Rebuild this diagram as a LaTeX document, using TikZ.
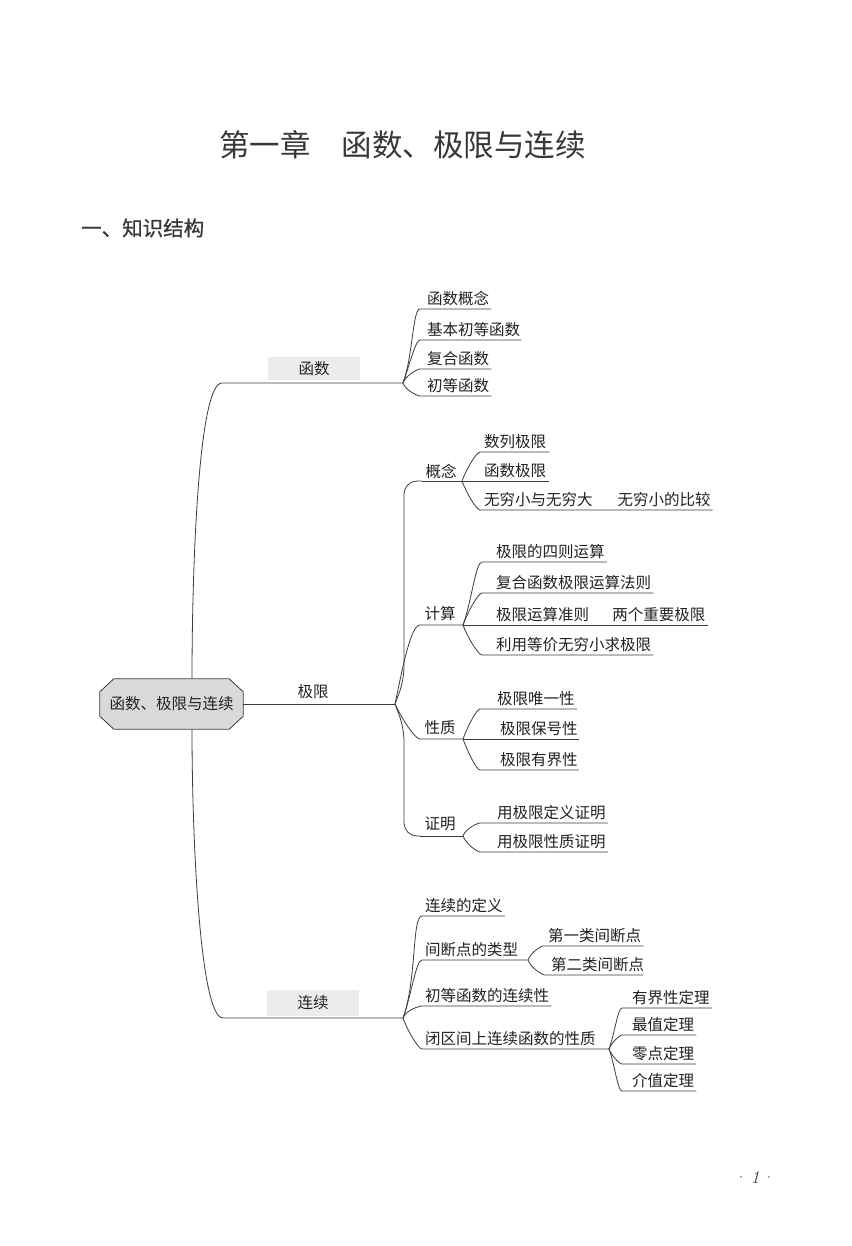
\documentclass[tikz,border=0pt]{standalone}
\usepackage{fontspec}
\newfontfamily\cjk{Noto Sans CJK SC}
\newfontfamily\cjkb{Noto Sans CJK SC}[FakeBold=0.8]
\usetikzlibrary{calc,backgrounds}
\definecolor{ln}{HTML}{3C3C3C}
\definecolor{tx}{HTML}{222222}
\definecolor{ttl}{HTML}{383838}
\definecolor{rootfill}{HTML}{D9D9D9}
\definecolor{labfill}{HTML}{ECECEC}
\begin{document}
\begin{tikzpicture}[x=1pt,y=1pt,
  every node/.style={text=tx},
  item/.style={font=\cjk\fontsize{15.5}{18}\selectfont, anchor=south west, inner xsep=0pt, inner ysep=4pt, text depth=0pt},
  lab/.style={font=\cjk\fontsize{15.5}{18}\selectfont, inner sep=0pt},
  wire/.style={draw=ln, line width=0.8pt},
  up/.style={out=70,in=180,in looseness=0.25},
  dn/.style={out=-70,in=180,in looseness=0.25},
  rootc/.style={lab, minimum width=143pt, minimum height=50pt},
  boxlab/.style={lab, fill=labfill, minimum width=92pt},
]
\useasboundingbox (0,0) rectangle (851,-1246);

% headings
\node[anchor=west, font=\cjk\fontsize{30.5}{36}\selectfont, text=ttl, inner sep=0pt] (title) at (219,-145) {第一章\hspace{31pt}函数、极限与连续};
\node[anchor=west, font=\cjkb\fontsize{20.5}{24}\selectfont, text=ttl, inner sep=0pt] (head) at (81,-228) {一、知识结构};

% root
\node[rootc] (root) at (171.5,-704) {函数、极限与连续};
\begin{pgfonlayer}{background}
\fill[white] (0,0) rectangle (851,-1246);
\draw[wire, fill=rootfill] ([xshift=14pt]root.north west) -- ([xshift=-14pt]root.north east) -- ([yshift=-13pt]root.north east) -- ([yshift=13pt]root.south east) -- ([xshift=-14pt]root.south east) -- ([xshift=14pt]root.south west) -- ([yshift=13pt]root.south west) -- ([yshift=-13pt]root.north west) -- cycle;
\end{pgfonlayer}
\coordinate (rtop) at ([xshift=20.5pt]root.north);
\coordinate (rbot) at ([xshift=20.5pt]root.south);

% main branch coordinates
\coordinate (fA) at (222,-383);
\coordinate (fB) at (403,-383);
\coordinate (jx) at (395,-704);
\coordinate (lA) at (223,-1018);
\coordinate (lB) at (403,-1018);

\node[boxlab, minimum height=23pt] (Lf) at (314,-368.5) {函数};
\node[lab] (Lj) at (313,-692) {极限};
\node[boxlab, minimum height=26pt] (Ll) at (313,-1003) {连续};

\draw[wire] (rtop) to[out=90,in=180,in looseness=0.2] (fA) -- (fB);
\draw[wire] (rbot) to[out=-90,in=180,in looseness=0.2] (lA) -- (lB);
\draw[wire] (root.east) -- (jx);

% ---------- 函数 ----------
\node[item] (n11) at (427,-309) {函数概念};
\node[item] (n12) at (427,-340) {基本初等函数};
\node[item] (n13) at (427,-369) {复合函数};
\node[item] (n14) at (427,-396) {初等函数};
\draw[wire] (fB) to[up] ([xshift=-7pt]n11.south west) -- ([xshift=2pt]n11.south east);
\draw[wire] (fB) to[up] ([xshift=-7pt]n12.south west) -- ([xshift=1pt]n12.south east);
\draw[wire] (fB) to[up] ([xshift=-7pt]n13.south west) -- ([xshift=2pt]n13.south east);
\draw[wire] (fB) to[dn] ([xshift=-7pt]n14.south west) -- ([xshift=2pt]n14.south east);

% ---------- 极限 ----------
% 概念
\coordinate (gnA) at (422,-481);
\coordinate (gnB) at (462,-481);
\node[lab] (Lgn) at (441,-471) {概念};
\draw[wire, rounded corners=13pt] (jx) -- ++(9,24) |- (gnA);
\draw[wire] (gnA) -- (gnB);
\node[item] (n21) at (484,-452) {数列极限};
\node[item] (n22) at (484,-481) {函数极限};
\node[item] (n23) at (484,-510) {无穷小与无穷大\hspace{1.6em}无穷小的比较};
\draw[wire] (gnB) to[up] ([xshift=-4pt]n21.south west) -- ([xshift=3pt]n21.south east);
\draw[wire] (gnB) -- ([xshift=3pt]n22.south east);
\draw[wire] (gnB) to[dn] ([xshift=-4pt]n23.south west) -- ([xshift=2pt]n23.south east);

% 计算
\coordinate (jsA) at (420,-625);
\coordinate (jsB) at (463,-625);
\node[lab] (Ljs) at (440,-614) {计算};
\draw[wire] (jx) to[out=78,in=180,in looseness=0.3] (jsA) -- (jsB);
\node[item] (n31) at (496,-562) {极限的四则运算};
\node[item] (n32) at (496,-593) {复合函数极限运算法则};
\node[item] (n33) at (496,-625) {极限运算准则\hspace{1.5em}两个重要极限};
\node[item] (n34) at (496,-655) {利用等价无穷小求极限};
\draw[wire] (jsB) to[up] ([xshift=-14pt]n31.south west) -- ([xshift=2pt]n31.south east);
\draw[wire] (jsB) to[up] ([xshift=-14pt]n32.south west) -- ([xshift=2pt]n32.south east);
\draw[wire] (jsB) -- ([xshift=2pt]n33.south east);
\draw[wire] (jsB) to[dn] ([xshift=-14pt]n34.south west) -- ([xshift=2pt]n34.south east);

% 性质
\coordinate (xzA) at (420,-739);
\coordinate (xzB) at (463,-739);
\node[lab] (Lxz) at (440,-728) {性质};
\draw[wire] (jx) to[out=-65,in=180,in looseness=0.3] (xzA) -- (xzB);
\node[item] (n41) at (497,-709) {极限唯一性};
\node[item] (n42) at (500,-739) {极限保号性};
\node[item] (n43) at (500,-770) {极限有界性};
\draw[wire] (xzB) to[up] ([xshift=-17pt]n41.south west) -- ([xshift=2pt]n41.south east);
\draw[wire] (xzB) -- ([xshift=1pt]n42.south east);
\draw[wire] (xzB) to[dn] ([xshift=-20pt]n43.south west) -- ([xshift=1pt]n43.south east);

% 证明
\coordinate (zmA) at (420,-836);
\coordinate (zmB) at (463,-836);
\node[lab] (Lzm) at (440,-824) {证明};
\draw[wire, rounded corners=13pt] (jx) -- ++(9,-24) |- (zmA);
\draw[wire] (zmA) -- (zmB);
\node[item] (n51) at (497,-823) {用极限定义证明};
\node[item] (n52) at (497,-852) {用极限性质证明};
\draw[wire] (zmB) to[up] ([xshift=-17pt]n51.south west) -- ([xshift=2pt]n51.south east);
\draw[wire] (zmB) to[dn] ([xshift=-17pt]n52.south west) -- ([xshift=2pt]n52.south east);

% ---------- 连续 ----------
\node[item] (n61) at (425,-916) {连续的定义};
\node[item] (n62) at (425,-960) {间断点的类型};
\node[item] (n63) at (425,-1006) {初等函数的连续性};
\node[item] (n64) at (425,-1049) {闭区间上连续函数的性质};
\coordinate (jdB) at (528,-960);
\coordinate (jbB) at (609,-1049);
\draw[wire] (lB) to[up] ([xshift=-3pt]n61.south west) -- ([xshift=2pt]n61.south east);
\draw[wire] (lB) to[up] ([xshift=-3pt]n62.south west) -- (jdB);
\draw[wire] (lB) to[up] ([xshift=-3pt]n63.south west) -- ([xshift=2pt]n63.south east);
\draw[wire] (lB) to[dn] ([xshift=-3pt]n64.south west) -- (jbB);

\node[item] (n71) at (548,-946) {第一类间断点};
\node[item] (n72) at (551,-975) {第二类间断点};
\draw[wire] (jdB) to[up] ([xshift=-5pt]n71.south west) -- ([xshift=2pt]n71.south east);
\draw[wire] (jdB) to[dn] ([xshift=-6pt]n72.south west) -- ([xshift=-1pt]n72.south east);

\node[item] (n81) at (632,-1008) {有界性定理};
\node[item] (n82) at (632,-1035) {最值定理};
\node[item] (n83) at (632,-1064) {零点定理};
\node[item] (n84) at (632,-1091) {介值定理};
\draw[wire] (jbB) to[up] ([xshift=-10pt]n81.south west) -- ([xshift=2pt]n81.south east);
\draw[wire] (jbB) to[up] ([xshift=-10pt]n82.south west) -- ([xshift=2pt]n82.south east);
\draw[wire] (jbB) to[dn] ([xshift=-10pt]n83.south west) -- ([xshift=2pt]n83.south east);
\draw[wire] (jbB) to[dn] ([xshift=-10pt]n84.south west) -- ([xshift=2pt]n84.south east);

% page number
\node[font=\fontsize{18}{22}\selectfont, text=black!75, inner sep=0pt] (pg) at (755,-1177) {\textperiodcentered\,\textit{1}\,\textperiodcentered};
\end{tikzpicture}
\end{document}
